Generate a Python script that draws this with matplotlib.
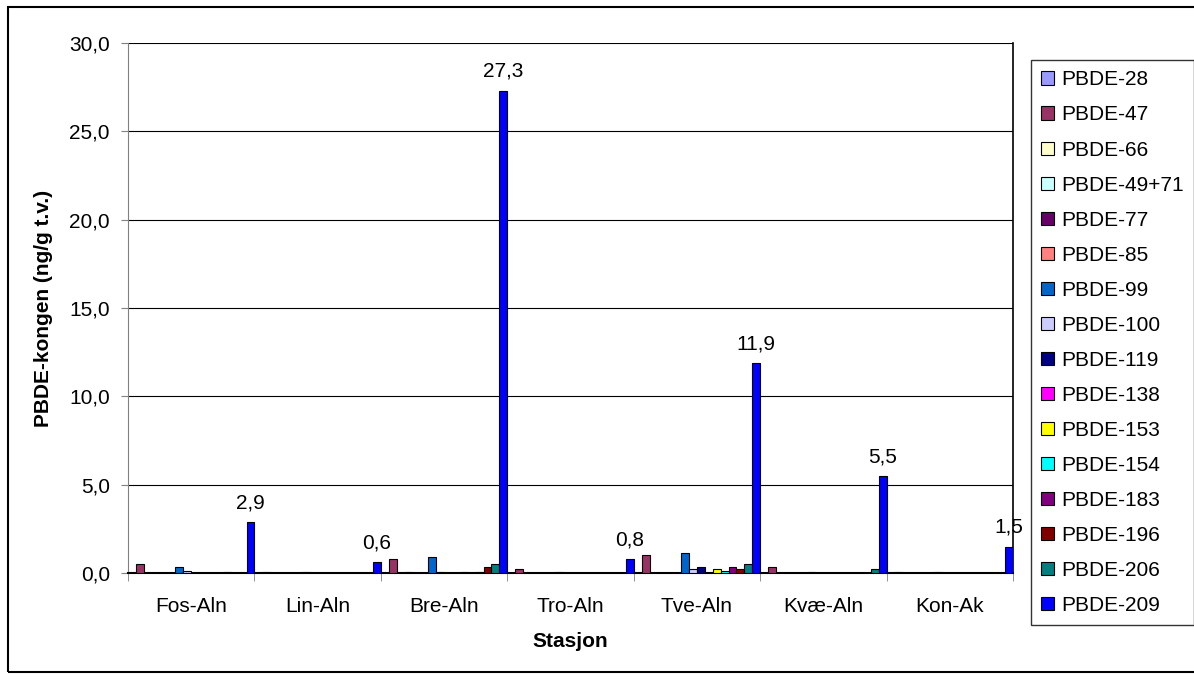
import matplotlib
matplotlib.use("Agg")
import matplotlib.pyplot as plt
import numpy as np
from matplotlib.patches import Rectangle

plt.rcParams['font.family'] = ['Liberation Sans', 'DejaVu Sans']

stations = ["Fos-Aln", "Lin-Aln", "Bre-Aln", "Tro-Aln", "Tve-Aln", "Kvæ-Aln", "Kon-Ak"]
congeners = ["PBDE-28", "PBDE-47", "PBDE-66", "PBDE-49+71", "PBDE-77", "PBDE-85",
             "PBDE-99", "PBDE-100", "PBDE-119", "PBDE-138", "PBDE-153", "PBDE-154",
             "PBDE-183", "PBDE-196", "PBDE-206", "PBDE-209"]
colors = ["#9999FF", "#993366", "#FFFFCC", "#CCFFFF", "#660066", "#FF8080",
          "#0066CC", "#CCCCFF", "#000080", "#FF00FF", "#FFFF00", "#00FFFF",
          "#800080", "#800000", "#008080", "#0000FF"]

# values per congener, one per station (ng/g t.v.)
pbde28 = [0, 0, 0, 0, 0, 0, 0]
pbde47 = [0.5, 0.08, 0.8, 0.2, 1.0, 0.32, 0.08]
pbde66 = [0, 0, 0, 0, 0, 0, 0]
pbde49_71 = [0, 0, 0.08, 0, 0, 0, 0]
pbde77 = [0, 0, 0, 0, 0, 0, 0]
pbde85 = [0, 0, 0, 0, 0, 0, 0]
pbde99 = [0.32, 0.08, 0.9, 0.08, 1.15, 0.08, 0.08]
pbde100 = [0.1, 0, 0.08, 0, 0.2, 0, 0]
pbde119 = [0, 0, 0, 0, 0.32, 0, 0]
pbde138 = [0, 0, 0, 0, 0, 0, 0]
pbde153 = [0, 0, 0.08, 0, 0.2, 0, 0]
pbde154 = [0, 0, 0, 0, 0.1, 0, 0]
pbde183 = [0.08, 0, 0.08, 0, 0.32, 0, 0]
pbde196 = [0, 0, 0.32, 0, 0.2, 0, 0]
pbde206 = [0, 0, 0.5, 0, 0.5, 0.25, 0]
pbde209 = [2.9, 0.6, 27.3, 0.8, 11.9, 5.5, 1.5]

series = [pbde28, pbde47, pbde66, pbde49_71, pbde77, pbde85, pbde99, pbde100,
          pbde119, pbde138, pbde153, pbde154, pbde183, pbde196, pbde206, pbde209]

FS = 15

fig = plt.figure(figsize=(11.94, 6.79), dpi=100)
ax = fig.add_axes([128/1194, 1 - 573/679, (1013-128)/1194, (573-43)/679])

x = np.arange(len(stations))
n = len(series)
w = 1.0 / n
for i, (vals, c, name) in enumerate(zip(series, colors, congeners)):
    pos = x - 0.5 + w * (i + 0.5)
    ax.bar(pos, vals, width=w, color=c, edgecolor="black", linewidth=0.8,
           label=name, zorder=3)
    if name == "PBDE-209":
        for p, v in zip(pos, vals):
            ax.text(p, v + 0.55, ("%.1f" % v).replace(".", ","), ha="center",
                    va="bottom", fontsize=FS)

ax.set_xlim(-0.5, len(stations) - 0.5)
ax.set_ylim(0, 30)
yt = np.arange(0, 31, 5)
ax.set_yticks(yt)
ax.set_yticklabels([("%.1f" % t).replace(".", ",") for t in yt], fontsize=FS)
ax.yaxis.grid(True, color="black", linewidth=0.8, zorder=0)
ax.set_xticks(x)
ax.set_xticklabels(stations, fontsize=FS)
ax.tick_params(axis="x", length=0, pad=17)
ax.set_xticks(np.arange(-0.5, len(stations)), minor=True)
ax.tick_params(axis="x", which="minor", length=6, direction="out", color="gray")
ax.tick_params(axis="y", length=5, direction="out", color="gray", pad=8)
ax.spines["top"].set_visible(False)
ax.spines["right"].set_linewidth(1.2)
ax.spines["bottom"].set_linewidth(1.5)
ax.spines["left"].set_color("gray")
ax.set_ylabel("PBDE-kongen (ng/g t.v.)", fontsize=FS, fontweight="bold", labelpad=12)
ax.set_xlabel("Stasjon", fontsize=FS, fontweight="bold", labelpad=12)

leg = fig.legend(loc="upper left", bbox_to_anchor=(1031/1194, 1 - 60/679),
                 fontsize=FS, frameon=True, fancybox=False, edgecolor="black",
                 handlelength=0.6, handleheight=0.6, handletextpad=0.35,
                 labelspacing=0.77, borderpad=0.5, borderaxespad=0)
leg.get_frame().set_linewidth(1.0)

fig.patches.append(Rectangle((8/1194, 7/679), 1.05, 1 - 14/679,
                             transform=fig.transFigure, fill=False,
                             edgecolor="black", linewidth=1.5))

fig.savefig("out.png", dpi=100)
